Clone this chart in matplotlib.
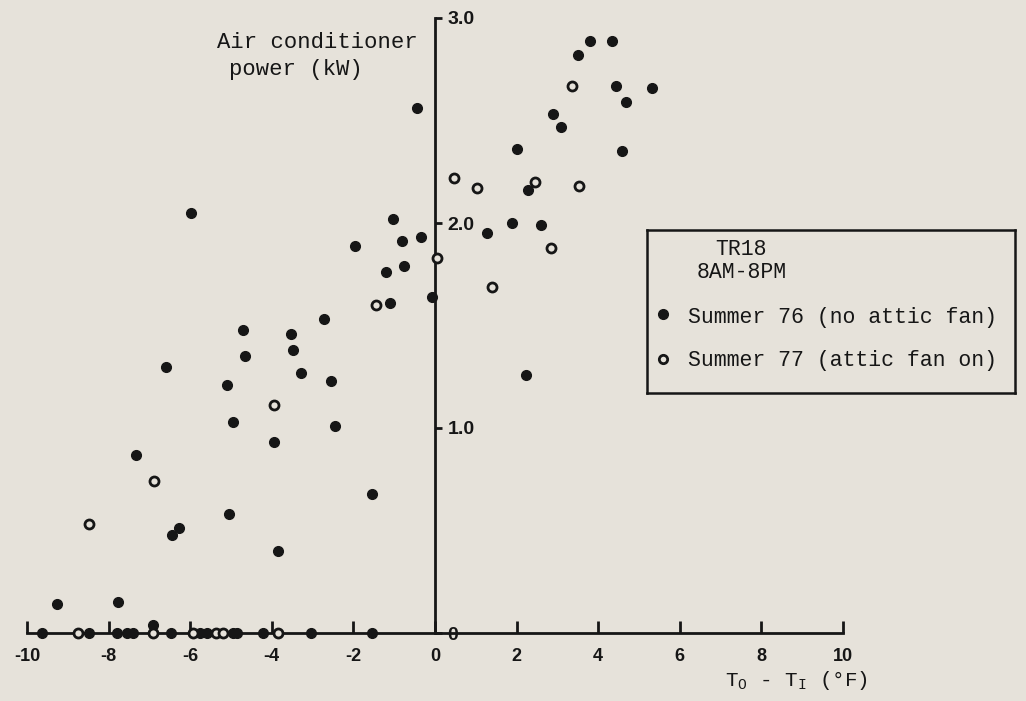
import matplotlib
matplotlib.use("Agg")
import matplotlib.pyplot as plt

# Summer 76 (no attic fan) - filled dots
s76_x = [-0.44, -5.98, -1.02, -0.80, -0.34, -1.95, -1.20, -0.76, -1.10, -0.07,
         -4.71, -3.54, -2.73, -4.66, -3.49, -6.59, -5.10, -3.29, -2.54, -4.95,
         -2.44, -3.95, -7.34, -1.54, -5.05, -6.27, -6.44, -3.85, -9.27, -7.78,
         3.80, 4.34, 3.51, 4.44, 5.32, 4.68, 2.88, 3.10, 2.00, 4.59,
         2.29, 1.88, 2.61, 1.27, 2.24,
         -9.63, -8.49, -7.80, -7.56, -7.40, -6.90, -6.46, -5.75, -5.60, -4.95,
         -4.85, -4.22, -3.05, -1.54]
s76_y = [2.56, 2.05, 2.02, 1.91, 1.93, 1.89, 1.76, 1.79, 1.61, 1.64,
         1.48, 1.46, 1.53, 1.35, 1.38, 1.30, 1.21, 1.27, 1.23, 1.03,
         1.01, 0.93, 0.87, 0.68, 0.58, 0.51, 0.48, 0.40, 0.14, 0.15,
         2.89, 2.89, 2.82, 2.67, 2.66, 2.59, 2.53, 2.47, 2.36, 2.35,
         2.16, 2.00, 1.99, 1.95, 1.26,
         0.0, 0.0, 0.0, 0.0, 0.0, 0.04, 0.0, 0.0, 0.0, 0.0,
         0.0, 0.0, 0.0, 0.0]

# Summer 77 (attic fan on) - open dots
s77_x = [-1.44, -3.95, -6.88, -8.49, 0.05, 3.37, 0.46, 1.02, 2.46, 3.54,
         2.85, 1.39,
         -8.76, -6.90, -5.93, -5.37, -5.20, -3.85]
s77_y = [1.60, 1.11, 0.74, 0.53, 1.83, 2.67, 2.22, 2.17, 2.20, 2.18,
         1.88, 1.69,
         0.0, 0.0, 0.0, 0.0, 0.0, 0.0]

x_ticks = [-10, -8, -6, -4, -2, 0, 2, 4, 6, 8, 10]
y_ticks = [0, 1, 2, 3]
y_tick_labels = ["0", "1.0", "2.0", "3.0"]

BG = "#e6e2da"
INK = "#161616"
MONO = "Liberation Mono"
SANS = "Liberation Sans"

plt.rcParams["mathtext.fontset"] = "custom"
plt.rcParams["mathtext.rm"] = MONO
plt.rcParams["mathtext.it"] = MONO

fig = plt.figure(figsize=(10.26, 7.01), dpi=100, facecolor=BG)
ax = fig.add_axes([27 / 1026, 68 / 701, 816 / 1026, 615 / 701])
ax.set_facecolor(BG)
ax.patch.set_alpha(0)

ax.plot(s76_x, s76_y, "o", color=INK, markersize=7, clip_on=False, zorder=3)
ax.plot(s77_x, s77_y, "o", markerfacecolor=BG, markeredgecolor=INK,
        markeredgewidth=2, markersize=6.5, clip_on=False, zorder=3)

ax.set_xlim(-10, 10)
ax.set_ylim(0, 3)

# axes: x line along y=0, y line at x=0
ax.spines["top"].set_visible(False)
ax.spines["left"].set_visible(False)
ax.spines["right"].set_position(("data", 0))
ax.spines["bottom"].set_position(("data", 0))
for s in ("right", "bottom"):
    ax.spines[s].set_linewidth(2)
    ax.spines[s].set_color(INK)

ax.set_xticks(x_ticks)
ax.set_xticklabels([str(t) for t in x_ticks])
ax.tick_params(axis="x", direction="in", length=9, width=2, color=INK,
               pad=11, labelsize=13, labelcolor=INK)
for lab in ax.get_xticklabels():
    lab.set_fontfamily(SANS)
    lab.set_fontweight("bold")

ax.yaxis.tick_right()
ax.set_yticks(y_ticks)
ax.set_yticklabels(y_tick_labels)
ax.tick_params(axis="y", direction="out", length=5, width=2, color=INK,
               pad=4, labelsize=14, labelcolor=INK)
for lab in ax.get_yticklabels():
    lab.set_fontfamily(SANS)
    lab.set_fontweight("bold")

# axis titles
fig.text(217 / 1026, 1 - 43 / 701, "Air conditioner", fontfamily=MONO,
         fontsize=16, color=INK, va="center", ha="left")
fig.text(229 / 1026, 1 - 70 / 701, "power (kW)", fontfamily=MONO,
         fontsize=16, color=INK, va="center", ha="left")
fig.text(725 / 1026, 1 - 686 / 701, r"$\mathrm{T_O}$ - $\mathrm{T_I}$ (°F)",
         fontfamily=MONO, fontsize=15, color=INK, va="baseline", ha="left")

# legend box
lg = fig.add_axes([647 / 1026, (701 - 393) / 701, 368 / 1026, 163 / 701])
lg.set_facecolor(BG)
lg.set_xlim(0, 1)
lg.set_ylim(0, 1)
lg.set_xticks([])
lg.set_yticks([])
for s in lg.spines.values():
    s.set_linewidth(1.8)
    s.set_color(INK)
lg.text(0.185, 0.883, "TR18", fontfamily=MONO, fontsize=15.5, color=INK,
        va="center", ha="left")
lg.text(0.136, 0.74, "8AM-8PM", fontfamily=MONO, fontsize=15.5, color=INK,
        va="center", ha="left")
lg.plot([0.043], [0.485], "o", color=INK, markersize=7)
lg.text(0.112, 0.465, "Summer 76 (no attic fan)", fontfamily=MONO,
        fontsize=15.5, color=INK, va="center", ha="left")
lg.plot([0.043], [0.21], "o", markerfacecolor=BG, markeredgecolor=INK,
        markeredgewidth=2, markersize=6)
lg.text(0.112, 0.2, "Summer 77 (attic fan on)", fontfamily=MONO,
        fontsize=15.5, color=INK, va="center", ha="left")

fig.savefig("out.png", dpi=100, facecolor=BG)
